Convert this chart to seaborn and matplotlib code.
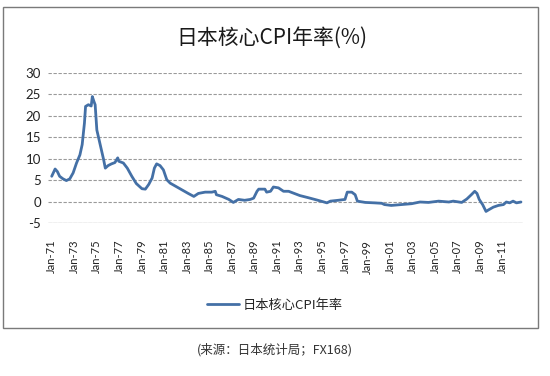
import numpy as np
import pandas as pd
import matplotlib
matplotlib.use("Agg")
import matplotlib.pyplot as plt
from matplotlib.patches import Rectangle
import seaborn as sns

# ---- data ----
years = [1971.0, 1971.3, 1971.5, 1971.7, 1972.0, 1972.3, 1972.6, 1972.9, 1973.2, 1973.5,
         1973.7, 1973.9, 1974.0, 1974.25, 1974.5, 1974.6, 1974.75, 1974.85, 1975.0, 1975.2,
         1975.4, 1975.6, 1975.75, 1976.0, 1976.3, 1976.6, 1976.85, 1976.95, 1977.35, 1977.7,
         1978.1, 1978.5, 1979.0, 1979.3, 1979.6, 1979.9, 1980.1, 1980.3, 1980.6, 1980.9,
         1981.2, 1981.5, 1981.9, 1982.5, 1983.1, 1983.6, 1984.0, 1984.6, 1985.2, 1985.5,
         1985.6, 1986.1, 1986.7, 1987.1, 1987.55, 1988.1, 1988.6, 1988.9, 1989.2, 1989.35,
         1989.9, 1990.05, 1990.4, 1990.65, 1991.1, 1991.55, 1992.0, 1992.4, 1993.0, 1993.75,
         1994.6, 1995.4, 1995.7, 1996.4, 1997.0, 1997.2, 1997.6, 1997.9, 1998.1, 1998.8,
         1999.6, 2000.25, 2000.5, 2001.1, 2002.0, 2002.9, 2003.65, 2004.4, 2005.3, 2006.2,
         2006.6, 2007.35, 2007.8, 2008.2, 2008.5, 2008.7, 2008.9, 2009.2, 2009.5, 2009.75,
         2010.15, 2010.6, 2011.05, 2011.3, 2011.6, 2011.9, 2012.2, 2012.6]
core_cpi = [5.9, 7.6, 7.0, 5.9, 5.3, 4.9, 5.3, 6.7, 9.0, 10.9,
            13.3, 18.3, 22.2, 22.6, 22.3, 24.5, 23.3, 22.6, 16.7, 14.4,
            12.1, 9.8, 7.8, 8.4, 8.8, 9.1, 10.2, 9.4, 9.0, 7.8,
            5.9, 4.2, 3.0, 2.9, 4.0, 5.5, 7.8, 8.8, 8.4, 7.4,
            5.1, 4.3, 3.7, 2.8, 1.9, 1.2, 1.9, 2.2, 2.2, 2.4,
            1.6, 1.2, 0.5, -0.2, 0.5, 0.3, 0.5, 0.8, 2.4, 2.9,
            2.9, 2.2, 2.4, 3.4, 3.2, 2.4, 2.4, 2.0, 1.4, 0.9,
            0.3, -0.3, 0.1, 0.3, 0.5, 2.2, 2.2, 1.6, 0.1, -0.2,
            -0.3, -0.4, -0.7, -0.9, -0.7, -0.5, -0.1, -0.2, 0.1, -0.1,
            0.1, -0.2, 0.6, 1.6, 2.4, 1.9, 0.5, -0.7, -2.3, -1.9,
            -1.3, -0.9, -0.7, -0.1, -0.3, 0.1, -0.3, -0.1]
tick_years = list(range(1971, 2012, 2))
tick_labels = ["Jan-%02d" % (y % 100) for y in tick_years]
y_ticks = [-5, 0, 5, 10, 15, 20, 25, 30]
series_name = "日本核心CPI年率"
title_text = "日本核心CPI年率(%)"
caption_text = "(来源：日本统计局；FX168)"

df = pd.DataFrame({"year": years, series_name: core_cpi})

sns.set_theme(style="white")
cjk = ["Noto Sans CJK SC", "DejaVu Sans"]
plt.rcParams["font.family"] = cjk

W, H = 550, 376
fig = plt.figure(figsize=(W / 100, H / 100), dpi=100)
ax = fig.add_axes([48 / W, 1 - 223 / H, (523 - 48) / W, (223 - 73) / H])

sns.lineplot(data=df, x="year", y=series_name, ax=ax, color="#4470a6",
             linewidth=2.0, label=series_name, legend=False)

ax.set_xlim(1970.67, 2012.78)
ax.set_ylim(-5, 30)
ax.set_yticks(y_ticks)
ax.set_yticklabels([str(v) for v in y_ticks], fontsize=9.5, color="#222222",
                   family=["Lato", "DejaVu Sans"])
ax.set_xticks(tick_years)
ax.set_xticklabels(tick_labels, rotation=90, fontsize=8, color="#222222",
                   family=["Lato", "DejaVu Sans"])
ax.tick_params(axis="x", length=0, pad=12)
ax.tick_params(axis="y", length=0, pad=5)
ax.set_xlabel("")
ax.set_ylabel("")
for s in ax.spines.values():
    s.set_visible(False)
ax.yaxis.grid(True, color="#9a9a9a", linewidth=0.8, linestyle=(0, (3, 1.5)))
ax.xaxis.grid(False)
ax.set_axisbelow(True)
ax.axhline(-5, color="#b0b0b0", linewidth=0.9, zorder=0)

fig.text(272 / W, 1 - 38 / H, title_text, ha="center", va="center",
         fontsize=15, fontweight="medium", color="#1a1a1a", family=cjk)

handles, labels = ax.get_legend_handles_labels()
fig.legend(handles, labels, loc="center", bbox_to_anchor=(275 / W, 1 - 305 / H),
           frameon=False, handlelength=2.4, handletextpad=0.3,
           prop={"family": cjk, "size": 9.5})

fig.text(275 / W, 1 - 350 / H, caption_text, ha="center", va="center",
         fontsize=9, color="#333333", family=cjk)

fig.patches.append(Rectangle((3 / W, 1 - 328 / H), (538 - 3) / W, (328 - 7) / H,
                             transform=fig.transFigure, fill=False,
                             edgecolor="#7a7a7a", linewidth=1.0))

fig.savefig("out.png", dpi=100, facecolor="white")
